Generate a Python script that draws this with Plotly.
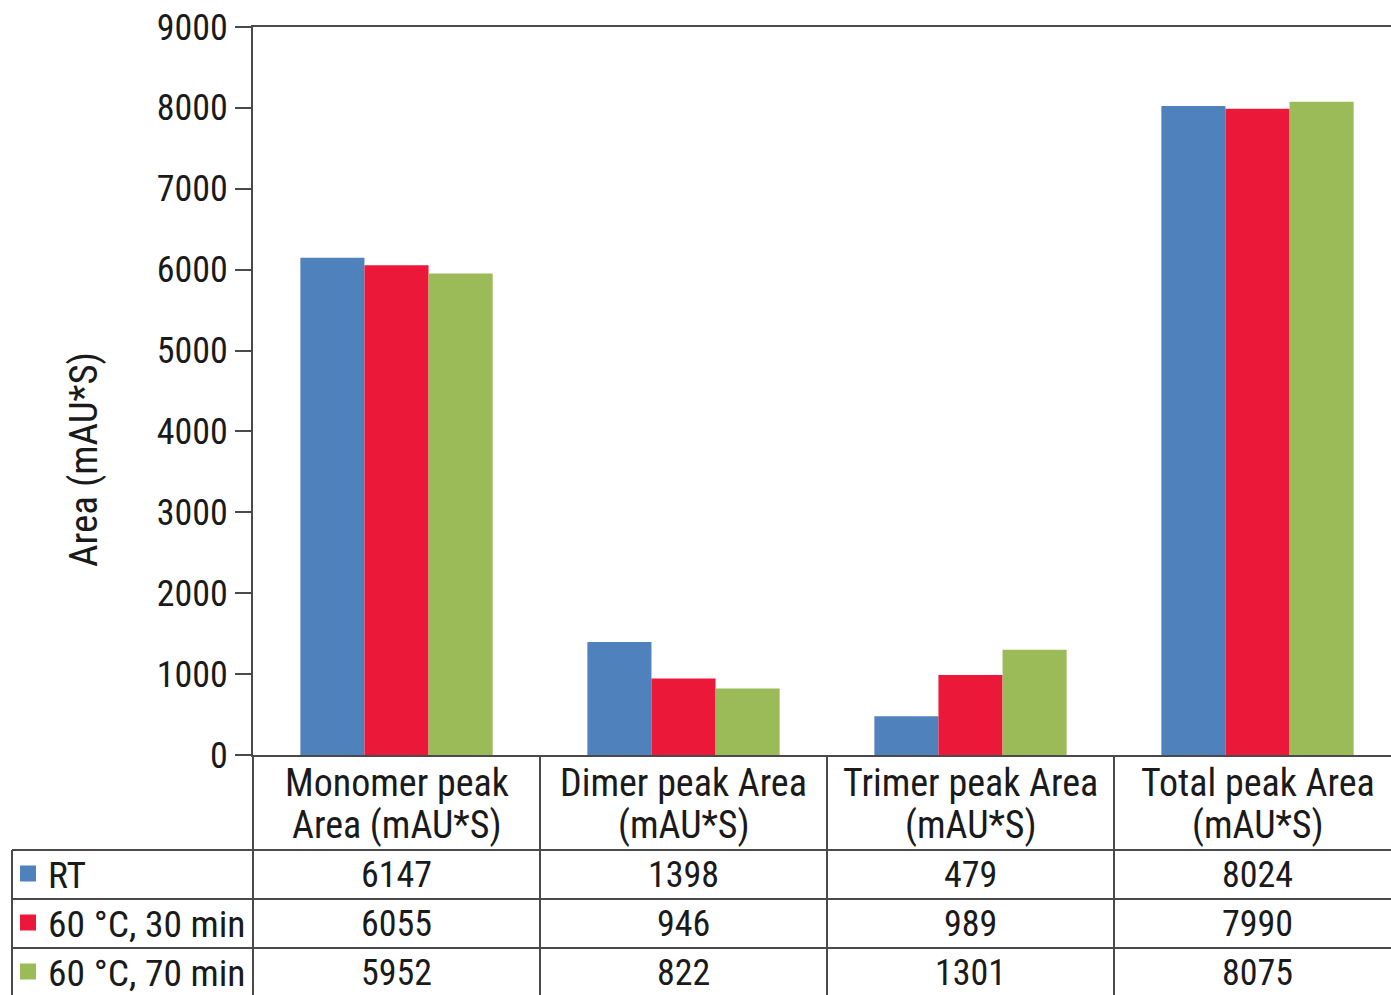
import plotly.graph_objects as go

# Data
categories = [
    "Monomer peak\nArea (mAU*S)",
    "Dimer peak Area\n(mAU*S)",
    "Trimer peak Area\n(mAU*S)",
    "Total peak Area\n(mAU*S)",
]
series_names = ["RT", "60 °C, 30 min", "60 °C, 70 min"]
rt_values = [6147, 1398, 479, 8024]
c60_30_values = [6055, 946, 989, 7990]
c60_70_values = [5952, 822, 1301, 8075]
series_values = [rt_values, c60_30_values, c60_70_values]
colors = ["#4F81BD", "#EC1839", "#9BBB59"]

y_ticks = list(range(0, 9001, 1000))

FONT = "Liberation Sans Narrow, Arial Narrow, Roboto Condensed, sans-serif"
TXT = "#1a1a1a"
LINE = "#4a4a4a"

W, H = 1391, 995
L, T, B = 253, 27, 240
plot_h = H - T - B          # 728
plot_w = W - L              # 1138
cat_px = 287                # width of one category slot
x_range = [-0.5, -0.5 + plot_w / cat_px]

xs = list(range(len(categories)))

fig = go.Figure()
for name, vals, col in zip(series_names, series_values, colors):
    fig.add_trace(go.Bar(x=xs, y=vals, name=name, marker=dict(color=col, line=dict(width=0))))


def xp(v):
    """category coordinate -> paper fraction"""
    return (v - x_range[0]) / (x_range[1] - x_range[0])


def yp(py):
    """pixel row -> paper fraction"""
    return (H - B - py) / plot_h


shapes = []
annotations = []

# table grid
row_lines = [850, 899, 948]
bottom = 1000
for py in row_lines:
    shapes.append(dict(type="line", xref="paper", yref="paper",
                       x0=(12 - L) / plot_w, x1=1.0, y0=yp(py), y1=yp(py),
                       line=dict(color=LINE, width=2)))
# left border of legend column
shapes.append(dict(type="line", xref="paper", yref="paper",
                   x0=(12 - L) / plot_w, x1=(12 - L) / plot_w, y0=yp(850), y1=yp(bottom),
                   line=dict(color=LINE, width=2)))
# column separators
for v in [-0.5] + [i + 0.5 for i in xs[:-1]]:
    shapes.append(dict(type="line", xref="paper", yref="paper",
                       x0=xp(v), x1=xp(v), y0=0, y1=yp(bottom),
                       line=dict(color=LINE, width=2)))

# header (category names)
for i, cat in enumerate(categories):
    lines = cat.split("\n")
    for j, ln in enumerate(lines):
        annotations.append(dict(x=xp(i), y=yp(783 + 42 * j), xref="paper", yref="paper",
                                text=ln, showarrow=False, xanchor="center", yanchor="middle",
                                font=dict(family=FONT, size=38, color=TXT)))

# value rows with legend keys
row_centers = [874.5, 923.5, 972.5]
for r, (name, vals, col) in enumerate(zip(series_names, series_values, colors)):
    cy = row_centers[r]
    shapes.append(dict(type="rect", xref="paper", yref="paper",
                       x0=(20 - L) / plot_w, x1=(36 - L) / plot_w,
                       y0=yp(cy + 7), y1=yp(cy - 9),
                       fillcolor=col, line=dict(width=0)))
    annotations.append(dict(x=(46 - L) / plot_w, y=yp(cy), xref="paper", yref="paper",
                            text=name, showarrow=False, xanchor="left", yanchor="middle",
                            font=dict(family=FONT, size=37.5, color=TXT)))
    for i, v in enumerate(vals):
        annotations.append(dict(x=xp(i), y=yp(cy), xref="paper", yref="paper",
                                text=str(v), showarrow=False, xanchor="center", yanchor="middle",
                                font=dict(family=FONT, size=36, color=TXT)))

# y-axis title
annotations.append(dict(x=(84 - L) / plot_w, y=yp(460), xref="paper", yref="paper",
                        text="Area (mAU*S)", textangle=-90, showarrow=False,
                        xanchor="center", yanchor="middle",
                        font=dict(family=FONT, size=39, color=TXT)))

fig.update_layout(
    width=W, height=H,
    margin=dict(l=L, r=0, t=T, b=B, pad=0),
    paper_bgcolor="white", plot_bgcolor="white",
    barmode="group", bargap=0.33, bargroupgap=0,
    showlegend=False,
    shapes=shapes, annotations=annotations,
    xaxis=dict(range=x_range, showticklabels=False, ticks="", showgrid=False, zeroline=False,
               showline=True, linecolor=LINE, linewidth=2, mirror=True, fixedrange=True),
    yaxis=dict(range=[0, 9000], tickvals=y_ticks, ticks="outside", ticklen=16, tickwidth=2,
               tickcolor=LINE, showline=True, linecolor=LINE, linewidth=2, showgrid=False,
               zeroline=False, tickfont=dict(family=FONT, size=36, color=TXT), fixedrange=True),
)

fig.write_html("out.html")
